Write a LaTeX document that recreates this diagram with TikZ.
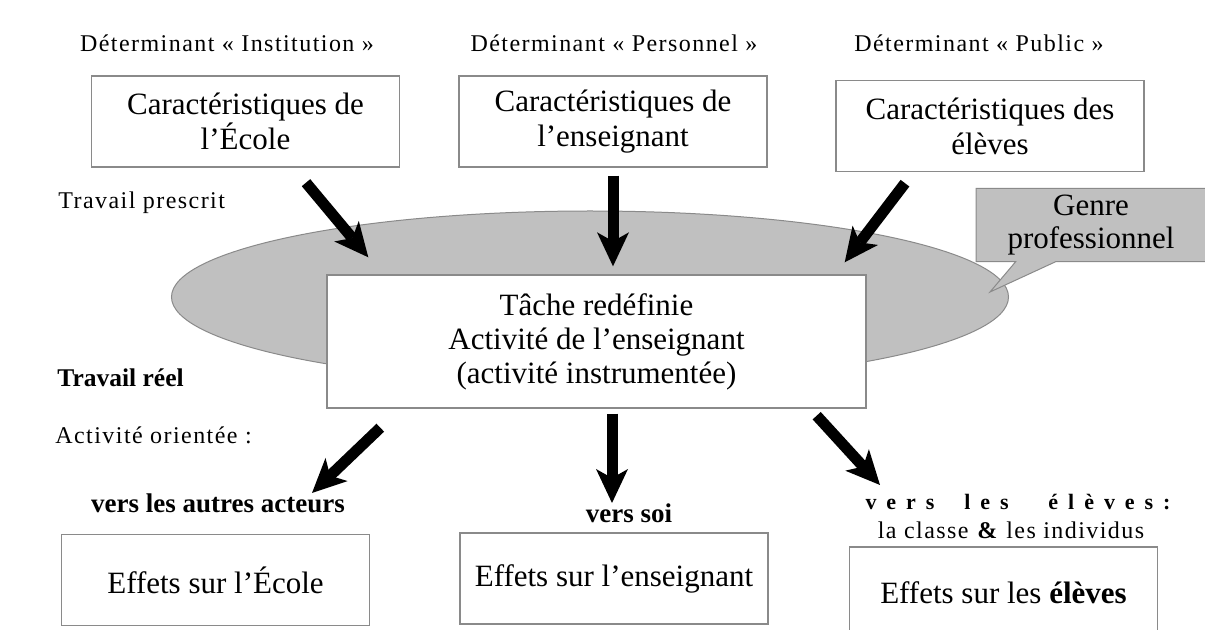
\documentclass[tikz,border=0pt]{standalone}
\usepackage{fontspec}
\setmainfont{Liberation Serif}
\newfontfamily\lblfont[LetterSpace=6]{Liberation Serif}
\usetikzlibrary{arrows.meta,shapes.geometric,shapes.callouts}
\definecolor{plane}{HTML}{C0C0C0}
\definecolor{rim}{HTML}{8A8A8A}
\tikzset{
  carac/.style={draw=rim,fill=white,line width=0.7pt,minimum width=154pt,minimum height=45.5pt,
    align=center,font=\fontsize{15.5}{17.5}\selectfont},
  lbl/.style={inner sep=0pt,font=\lblfont\fontsize{12}{14}\selectfont},
  gras/.style={inner sep=0pt,font=\bfseries\fontsize{13.5}{15}\selectfont},
  fat/.style={line width=5.5pt,-{Stealth[length=17pt,width=16pt,inset=4.5pt,line width=0pt]}},
}

\begin{document}
\begin{tikzpicture}[x=0.5pt,y=-0.5pt]
\useasboundingbox (0,0) rectangle (1205,630);
% determinants
\node[lbl] (det1) at (227,43) {Déterminant « Institution »};
\node[lbl] (det2) at (614,43) {Déterminant « Personnel »};
\node[lbl] (det3) at (979,43) {Déterminant « Public »};
\node[carac] (ecole) at (245.5,121.5) {Caractéristiques de\\l’École};
\node[carac] (prof) at (613,121.5) {Caractéristiques de\\l’enseignant};
\node[carac] (eleves) at (990,126) {Caractéristiques des\\élèves};
% zone du genre
\node[lbl,anchor=west] (prescrit) at (58,203) {Travail prescrit};
\node[ellipse,fill=plane,draw=rim,line width=0.5pt,minimum width=418.5pt,minimum height=86pt,inner sep=0pt] (zone) at (590,297) {};
\coordinate (gtip) at (990,292);
\node[rectangle callout,fill=plane,draw=rim,line width=0.5pt,minimum width=115pt,minimum height=36pt,
  callout absolute pointer={(gtip)},callout pointer width=20pt,align=center,
  font=\fontsize{15.5}{16.5}\selectfont] (genre) at (1091,225) {Genre\\professionnel};
\node[carac,minimum width=269.5pt,minimum height=66.5pt,font=\fontsize{15.5}{17}\selectfont] (tache) at (596.5,341.5)
  {Tâche redéfinie\\Activité de l’enseignant\\(activité instrumentée)};
\node[inner sep=0pt,anchor=west,font=\bfseries\fontsize{12.75}{14}\selectfont] (reel) at (57,378) {Travail réel};
\node[lbl,anchor=west] (orient) at (55,435) {Activité orientée :};
% orientations
\node[gras] (autres) at (218,503) {vers les autres acteurs};
\node[gras] (soi) at (629,513) {vers soi};
\node[inner sep=0pt,font=\bfseries\fontsize{11}{13}\selectfont] (velv) at (1018,502)
  {\hbox to 152.5pt{v\hfil e\hfil r\hfil s\hfil\hfil\hfil l\hfil e\hfil s\hfil\hfil\hfil\hfil é\hfil l\hfil è\hfil v\hfil e\hfil s\hfil :}};
\node[lbl] (classe) at (1011,530) {la classe \textbf{\&} les individus};
\node[carac] (fecole) at (215.5,580) {Effets sur l’École};
\node[carac] (fprof) at (614,578.5) {Effets sur l’enseignant};
\node[carac] (felv) at (1003.5,592.5) {Effets sur les \textbf{élèves}};
% fleches
\coordinate (t4) at (312,493);
\coordinate (t5) at (612,503);
\coordinate (t6) at (880,485);
\draw[fat] ([xshift=30.25pt,yshift=-7.5pt]ecole.south) -- ([xshift=21pt,yshift=8.5pt]tache.north west);
\draw[fat] ([yshift=-4pt]prof.south) -- ([xshift=8.25pt,yshift=4pt]tache.north);
\draw[fat] ([xshift=-42.5pt,yshift=-5.5pt]eleves.south) -- ([xshift=-11pt,yshift=6pt]tache.north east);
\draw[fat] ([xshift=27pt,yshift=-9.5pt]tache.south west) -- (t4);
\draw[fat] ([xshift=7.75pt,yshift=-2.5pt]tache.south) -- (t5);
\draw[fat] ([xshift=-25pt,yshift=-3.5pt]tache.south east) -- (t6);
\end{tikzpicture}
\end{document}
